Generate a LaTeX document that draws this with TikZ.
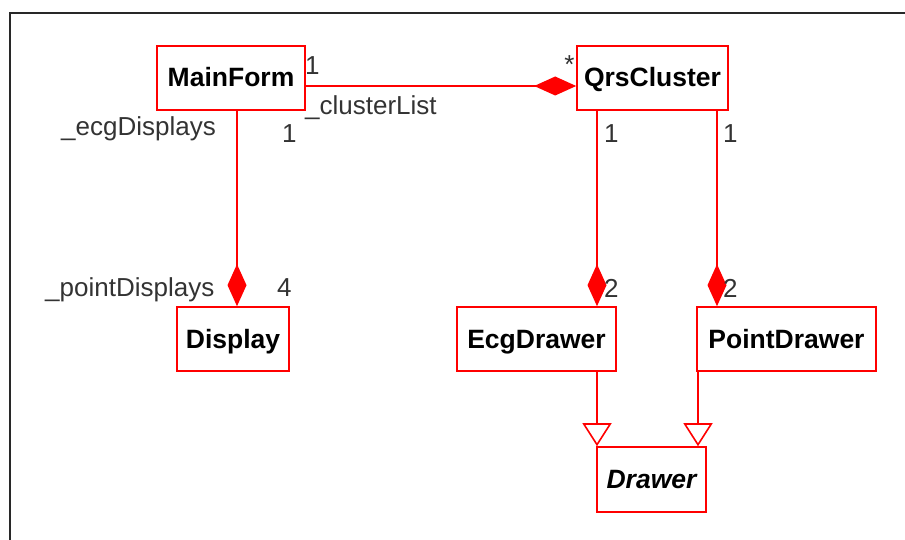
\documentclass[tikz,border=0pt]{standalone}
\usepackage{fontspec}
\setmainfont{Liberation Sans}
\usetikzlibrary{arrows.meta}
\definecolor{umlred}{RGB}{255,0,0}
\definecolor{lbl}{RGB}{51,51,51}
\definecolor{framecol}{RGB}{40,40,40}
\begin{document}
\begin{tikzpicture}[x=1pt,y=-1pt,
 cls/.style={draw=umlred, line width=1.6pt, fill=white, inner sep=0pt, text height=19pt, text depth=1pt, font=\fontsize{26.5}{30}\selectfont\bfseries, text=black},
 lab/.style={inner sep=0pt, anchor=base west, font=\fontsize{26}{30}\selectfont, text=lbl},
 assoc/.style={draw=umlred, line width=1.6pt},
 comp/.style={assoc, -{Diamond[length=42pt,width=19pt,fill=umlred]}},
 gen/.style={assoc, -{Triangle[open,length=23pt,width=29pt,fill=white]}}
]
\useasboundingbox (0,0) rectangle (905,540);
\draw[framecol, line width=2pt] (10,541) -- (10,13) -- (906,13);

\node[cls, minimum width=148pt, minimum height=64pt] (main) at (231,78) {MainForm};
\node[cls, minimum width=151pt, minimum height=64pt] (qrs) at (652.5,78) {QrsCluster};
\node[cls, minimum width=112pt, minimum height=64pt] (disp) at (233,339) {Display};
\node[cls, minimum width=159pt, minimum height=64pt] (ecg) at (536.5,339) {EcgDrawer};
\node[cls, minimum width=179pt, minimum height=64pt] (pnt) at (786.5,339) {PointDrawer};
\node[cls, minimum width=109pt, minimum height=65pt, font=\fontsize{26.5}{30}\selectfont\bfseries\itshape] (drw) at (651.5,479.5) {Drawer};

\draw[comp] (main.east |- 0,86) -- (qrs.west |- 0,86);
\draw[comp] (main.south -| 237,0) -- (disp.north -| 237,0);
\draw[comp] (qrs.south -| 597,0) -- (ecg.north -| 597,0);
\draw[comp] (qrs.south -| 717,0) -- (pnt.north -| 717,0);
\draw[gen] (ecg.south -| 597,0) -- (drw.north -| 597,0);
\draw[gen] (pnt.south -| 698,0) -- (drw.north -| 698,0);

\node[lab] (m1) at (305,75) {1};
\node[lab] (cl) at (305,115) {\_clusterList};
\node[lab] (ecgd) at (61,136) {\_ecgDisplays};
\node[lab] (m1b) at (282,143) {1};
\node[lab, anchor=base] (star) at (569.5,74) {*};
\node[lab] (q1a) at (604,143) {1};
\node[lab] (q1b) at (723,143) {1};
\node[lab] (ptd) at (45,296) {\_pointDisplays};
\node[lab] (four) at (277,296) {4};
\node[lab] (twoa) at (604,297) {2};
\node[lab] (twob) at (723,297) {2};
\end{tikzpicture}
\end{document}
